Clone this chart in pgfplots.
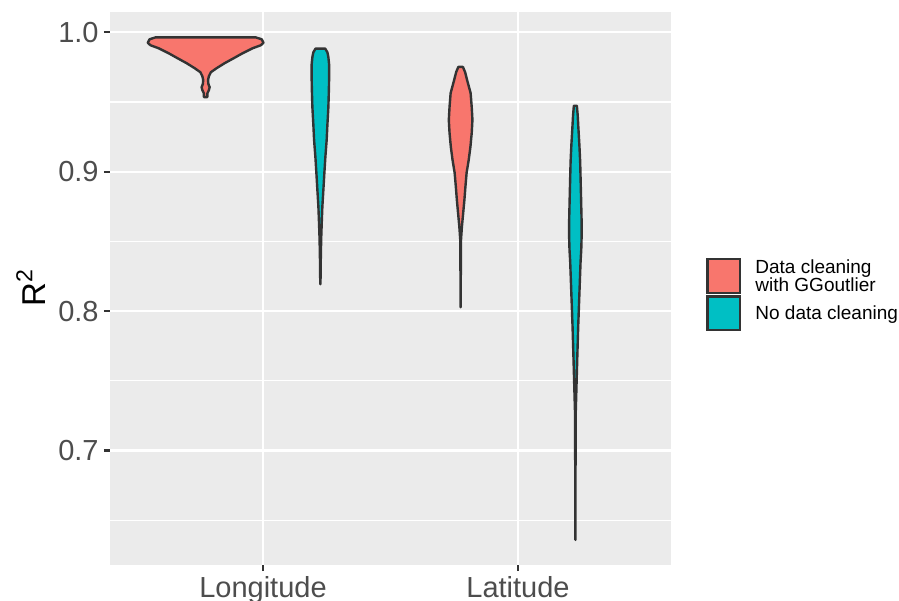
\documentclass[border=0pt]{standalone}
\usepackage{fontspec}
\setmainfont{Liberation Sans}
\usepackage{pgfplots}
\pgfplotsset{compat=1.18}
\definecolor{panel}{HTML}{EBEBEB}
\definecolor{gfill}{HTML}{F8766D}
\definecolor{bfill}{HTML}{00BFC4}
\definecolor{outl}{HTML}{333333}
\definecolor{ticklab}{HTML}{4D4D4D}
\begin{document}
\begin{tikzpicture}
\useasboundingbox (0,0) rectangle (449.5pt,300pt);
\begin{axis}[
 at={(55pt,17.5pt)}, anchor=south west,
 scale only axis, width=280.5pt, height=276.5pt,
 xmin=0.4, xmax=2.6, ymin=0.6179, ymax=1.0146,
 axis background/.style={fill=panel},
 axis line style={draw=none},
 xtick={1,2}, xticklabels={Longitude,Latitude},
 ytick={0.7,0.8,0.9,1.0}, yticklabels={0.7,0.8,0.9,1.0},
 minor ytick={0.65,0.75,0.85,0.95},
 grid=both,
 major grid style={white, line width=1.1pt},
 minor grid style={white, line width=0.55pt},
 tick align=outside, major tick length=3pt, minor tick length=0pt,
 tick pos=left,
 tick style={outl, line width=1.1pt},
 ticklabel style={font=\fontsize{14.5}{17}\selectfont, text=ticklab},
 yticklabel style={anchor=east, inner sep=0pt, xshift=-2.5pt},
 xticklabel style={anchor=north, inner sep=0pt, yshift=-2.5pt},
 /pgf/number format/assume math mode=true,
]
\addplot[fill=gfill, draw=outl, line width=1.2pt, line join=round] coordinates {
(0.971,0.99643) (0.995,0.99500) (1.002,0.99250) (0.991,0.99071) (0.959,0.98857) (0.920,0.98500) (0.885,0.98143) (0.8495,0.97786) (0.8181,0.97429) (0.7958,0.97143) (0.7879,0.96857) (0.7844,0.96571) (0.7860,0.96286) (0.7907,0.96071) (0.7879,0.95857) (0.7821,0.95643) (0.7821,0.95357)
(0.7679,0.95357) (0.7679,0.95643) (0.7621,0.95857) (0.7593,0.96071) (0.7640,0.96286) (0.7656,0.96571) (0.7621,0.96857) (0.7542,0.97143) (0.7319,0.97429) (0.7005,0.97786) (0.665,0.98143) (0.630,0.98500) (0.591,0.98857) (0.559,0.99071) (0.548,0.99250) (0.555,0.99500) (0.579,0.99643)
} --cycle;
\addplot[fill=bfill, draw=outl, line width=1.2pt, line join=round] coordinates {
(1.2438,0.98836) (1.2525,0.98571) (1.2564,0.98214) (1.2595,0.97643) (1.2595,0.96929) (1.2583,0.95857) (1.2564,0.94643) (1.2525,0.93357) (1.2497,0.92286) (1.2446,0.91071) (1.2407,0.89929) (1.2368,0.88714) (1.2328,0.875) (1.2301,0.86214) (1.2281,0.85143) (1.2266,0.83714) (1.2254,0.81929)
(1.2246,0.81929) (1.2234,0.83714) (1.2219,0.85143) (1.2199,0.86214) (1.2172,0.875) (1.2132,0.88714) (1.2093,0.89929) (1.2054,0.91071) (1.2003,0.92286) (1.1975,0.93357) (1.1936,0.94643) (1.1917,0.95857) (1.1905,0.96929) (1.1905,0.97643) (1.1936,0.98214) (1.1975,0.98571) (1.2062,0.98836)
} --cycle;
\addplot[fill=gfill, draw=outl, line width=1.2pt, line join=round] coordinates {
(1.7840,0.97521) (1.7926,0.97143) (1.8005,0.96571) (1.8142,0.95643) (1.8185,0.94643) (1.8213,0.93714) (1.8185,0.92786) (1.8134,0.91786) (1.8068,0.90857) (1.7985,0.89929) (1.7938,0.88929) (1.7899,0.88) (1.7852,0.87071) (1.7801,0.86071) (1.7766,0.85143) (1.7758,0.83714) (1.7754,0.80286)
(1.7746,0.80286) (1.7742,0.83714) (1.7734,0.85143) (1.7699,0.86071) (1.7648,0.87071) (1.7601,0.88) (1.7562,0.88929) (1.7515,0.89929) (1.7432,0.90857) (1.7366,0.91786) (1.7315,0.92786) (1.7287,0.93714) (1.7315,0.94643) (1.7358,0.95643) (1.7495,0.96571) (1.7574,0.97143) (1.7660,0.97521)
} --cycle;
\addplot[fill=bfill, draw=outl, line width=1.2pt, line join=round] coordinates {
(2.2309,0.94736) (2.2340,0.94071) (2.2368,0.93143) (2.2407,0.91929) (2.2438,0.90714) (2.2470,0.88357) (2.2493,0.86571) (2.2497,0.855) (2.2481,0.84429) (2.2454,0.83571) (2.2407,0.81214) (2.2360,0.78857) (2.2321,0.76429) (2.2285,0.74071) (2.2266,0.72857) (2.2258,0.70143) (2.2254,0.66571) (2.2252,0.63593)
(2.2248,0.63593) (2.2246,0.66571) (2.2242,0.70143) (2.2234,0.72857) (2.2215,0.74071) (2.2179,0.76429) (2.2140,0.78857) (2.2093,0.81214) (2.2046,0.83571) (2.2019,0.84429) (2.2003,0.855) (2.2007,0.86571) (2.2030,0.88357) (2.2062,0.90714) (2.2093,0.91929) (2.2132,0.93143) (2.2160,0.94071) (2.2191,0.94736)
} --cycle;
\end{axis}
\node[rotate=90, anchor=base, inner sep=0pt, font=\fontsize{16.5}{19}\selectfont] at (22.5pt,156.25pt) {R\textsuperscript{2}};
\draw[outl, fill=gfill, line width=1.1pt] (353.75pt,153.5pt) rectangle (370pt,170.5pt);
\draw[outl, fill=bfill, line width=1.1pt] (353.75pt,135pt) rectangle (370pt,151.75pt);
\begin{scope}[every node/.style={anchor=base west, inner sep=0pt, font=\fontsize{9.5}{8.6}\selectfont}]
\node at (377.5pt,163.35pt) {Data cleaning};
\node at (377.5pt,154.15pt) {with GGoutlier};
\node at (377.5pt,140pt) {No data cleaning};
\end{scope}
\end{tikzpicture}
\end{document}
